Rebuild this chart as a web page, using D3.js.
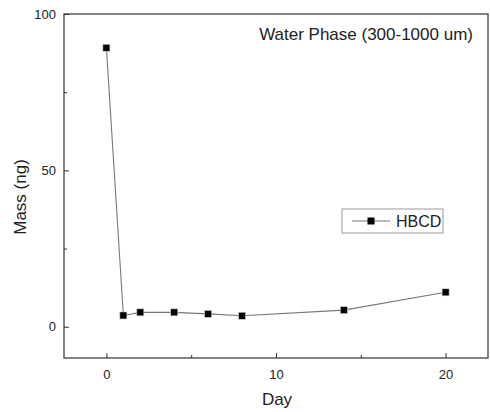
<!DOCTYPE html>
<html><head><meta charset="utf-8">
<script src="https://cdn.jsdelivr.net/npm/d3@7"></script>
<style>body{margin:0;background:#fff}svg{display:block;font-family:"Liberation Sans",Arial,sans-serif}</style>
</head><body>
<svg id="c" width="490" height="412"></svg>
<script>
const days = [0, 1, 2, 4, 6, 8, 14, 20];
const mass = [89.2, 3.6, 4.6, 4.6, 4.1, 3.5, 5.3, 11.0];
const xTicks = [0, 10, 20];
const xMinor = [5, 15];
const yTicks = [0, 50, 100];
const yMinor = [25, 75];
const seriesName = "HBCD";
const title = "Water Phase (300-1000 um)";

const svg = d3.select("#c");
const L = 64, R = 488, T = 14, B = 358;
const x = d3.scaleLinear().domain([-2.5, 22.5]).range([L, R]);
const y = d3.scaleLinear().domain([-10, 100]).range([B, T]);

// frame
svg.append("rect").attr("x", L).attr("y", T).attr("width", R - L).attr("height", B - T)
  .attr("fill", "none").attr("stroke", "#333").attr("stroke-width", 1.2);

// x axis ticks (inward)
const gx = svg.append("g").attr("transform", `translate(0,${B})`)
  .call(d3.axisBottom(x).tickValues(xTicks).tickSizeInner(-5).tickSizeOuter(0).tickPadding(12));
gx.select(".domain").remove();
gx.selectAll("text").attr("font-size", 13).attr("fill", "#222").attr("font-family", "Liberation Sans, Arial, sans-serif");
gx.selectAll("line").attr("stroke", "#333");
svg.append("g").attr("transform", `translate(0,${B})`)
  .call(d3.axisBottom(x).tickValues(xMinor).tickSizeInner(-3).tickSizeOuter(0).tickFormat(""))
  .call(g => g.select(".domain").remove()).selectAll("line").attr("stroke", "#333");

// y axis ticks (inward)
const gy = svg.append("g").attr("transform", `translate(${L},0)`)
  .call(d3.axisLeft(y).tickValues(yTicks).tickSizeInner(-5).tickSizeOuter(0).tickPadding(8));
gy.select(".domain").remove();
gy.selectAll("text").attr("font-size", 13).attr("fill", "#222").attr("font-family", "Liberation Sans, Arial, sans-serif");
gy.selectAll("line").attr("stroke", "#333");
svg.append("g").attr("transform", `translate(${L},0)`)
  .call(d3.axisLeft(y).tickValues(yMinor).tickSizeInner(-3).tickSizeOuter(0).tickFormat(""))
  .call(g => g.select(".domain").remove()).selectAll("line").attr("stroke", "#333");

// axis labels
svg.append("text").attr("x", (L + R) / 2 + 1).attr("y", 405).attr("text-anchor", "middle")
  .attr("font-size", 17).attr("fill", "#222").text("Day");
svg.append("text").attr("transform", `translate(26,${(T + B) / 2 + 11}) rotate(-90)`)
  .attr("text-anchor", "middle").attr("font-size", 17).attr("fill", "#222").text("Mass (ng)");

// title
svg.append("text").attr("x", 473).attr("y", 40).attr("text-anchor", "end")
  .attr("font-size", 17).attr("fill", "#222").text(title);

// line
const data = days.map((d, i) => ({ d, m: mass[i] }));
svg.append("path").datum(data)
  .attr("d", d3.line().x(p => x(p.d)).y(p => y(p.m)))
  .attr("fill", "none").attr("stroke", "#777").attr("stroke-width", 1.1);
svg.selectAll("rect.pt").data(data).join("rect").attr("class", "pt")
  .attr("x", p => x(p.d) - 3.5).attr("y", p => y(p.m) - 3.5)
  .attr("width", 7).attr("height", 7).attr("fill", "#000").attr("stroke", "#ccc").attr("stroke-width", 0.6);

// legend
const lg = svg.append("g");
lg.append("rect").attr("x", 342).attr("y", 209).attr("width", 101).attr("height", 24)
  .attr("fill", "#fff").attr("stroke", "#999").attr("stroke-width", 1);
lg.append("line").attr("x1", 352).attr("x2", 390).attr("y1", 221).attr("y2", 221)
  .attr("stroke", "#777").attr("stroke-width", 1.1);
lg.append("rect").attr("x", 367.5).attr("y", 217.5).attr("width", 7).attr("height", 7).attr("fill", "#000");
lg.append("text").attr("x", 396).attr("y", 227).attr("font-size", 16).attr("fill", "#222").text(seriesName);
</script>
</body></html>
